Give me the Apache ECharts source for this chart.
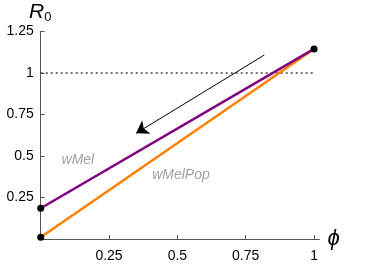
<!DOCTYPE html>
<html><head><meta charset="utf-8">
<script src="https://cdn.jsdelivr.net/npm/echarts@6/dist/echarts.min.js"></script>
<style>html,body{margin:0;padding:0;background:#fff}#c{width:379px;height:279px}</style>
</head><body><div id="c"></div>
<script>
const phi = [0, 1];
const wMel = [0.185, 1.145];
const wMelPop = [0.01, 1.145];
const threshold = 1;
const arrowFrom = [0.818, 1.108];
const arrowTo = [0.349, 0.637];
const xTicks = [0.25, 0.5, 0.75, 1];
const yTicks = [0.25, 0.5, 0.75, 1, 1.25];
const endPoints = [[0, 0.185], [0, 0.01], [1, 1.145]];
const seriesLabels = [
  {name: 'wMel', pos: [0.136, 0.476]},
  {name: 'wMelPop', pos: [0.513, 0.386]}
];

const tickFont = {fontFamily: '"Liberation Sans Narrow","Arial Narrow","Liberation Sans",sans-serif', fontSize: 14, color: '#000'};
const chart = echarts.init(document.getElementById('c'), null, {renderer: 'canvas'});
chart.setOption({
  animation: false,
  backgroundColor: '#fff',
  grid: {left: 40.7, right: 59.5, top: 31.5, bottom: 40, containLabel: false},
  xAxis: {
    type: 'value', min: 0, max: 1.02,
    axisLine: {show: true, onZero: false, lineStyle: {color: '#555', width: 1}},
    axisTick: {show: true, inside: true, length: 4, customValues: xTicks, lineStyle: {color: '#555'}},
    axisLabel: Object.assign({customValues: xTicks, margin: 10}, tickFont),
    splitLine: {show: false},
    name: 'ϕ', nameLocation: 'end', nameGap: 8,
    nameTextStyle: {fontFamily: 'Liberation Sans, Arial, sans-serif', fontStyle: 'italic', fontSize: 22, color: '#000', verticalAlign: 'middle'}
  },
  yAxis: {
    type: 'value', min: 0, max: 1.25,
    axisLine: {show: true, onZero: false, lineStyle: {color: '#555', width: 1}},
    axisTick: {show: true, inside: true, length: 4, customValues: yTicks, lineStyle: {color: '#555'}},
    axisLabel: Object.assign({customValues: yTicks, margin: 7}, tickFont),
    splitLine: {show: false}
  },
  graphic: [{
    type: 'text', left: 29, top: 2,
    style: {
      rich: {
        r: {fontFamily: 'Liberation Sans, Arial, sans-serif', fontStyle: 'italic', fontSize: 21, fill: '#000'},
        s: {fontFamily: 'Liberation Sans, Arial, sans-serif', fontSize: 13, fill: '#000', padding: [10, 0, 0, 0]}
      },
      text: '{r|R}{s|0}'
    }
  }],
  series: [
    {
      type: 'line', data: [[phi[0], threshold], [phi[1], threshold]], symbol: 'none',
      lineStyle: {color: '#444', width: 1.6, type: [2, 3]}, z: 1
    },
    {
      type: 'line', data: phi.map((p, i) => [p, wMelPop[i]]), symbol: 'none',
      lineStyle: {color: '#ff8000', width: 2.5}, z: 2
    },
    {
      type: 'line', data: phi.map((p, i) => [p, wMel[i]]), symbol: 'none',
      lineStyle: {color: '#800080', width: 2.5}, z: 3
    },
    {
      type: 'lines', coordinateSystem: 'cartesian2d',
      data: [{coords: [arrowFrom, arrowTo]}],
      symbol: ['none', 'arrow'], symbolSize: 12,
      lineStyle: {color: '#000', width: 1, opacity: 1}, z: 4
    },
    {
      type: 'scatter', data: endPoints, symbolSize: 7, clip: false,
      itemStyle: {color: '#000', opacity: 1}, z: 5
    },
    {
      type: 'scatter', data: seriesLabels.map(l => ({value: l.pos, name: l.name})),
      symbolSize: 0, clip: false, silent: true,
      label: {
        show: true, position: 'inside', formatter: '{b}',
        fontFamily: 'Liberation Sans, Arial, sans-serif', fontStyle: 'italic', fontSize: 14, color: '#888'
      }
    }
  ]
});
</script></body></html>
